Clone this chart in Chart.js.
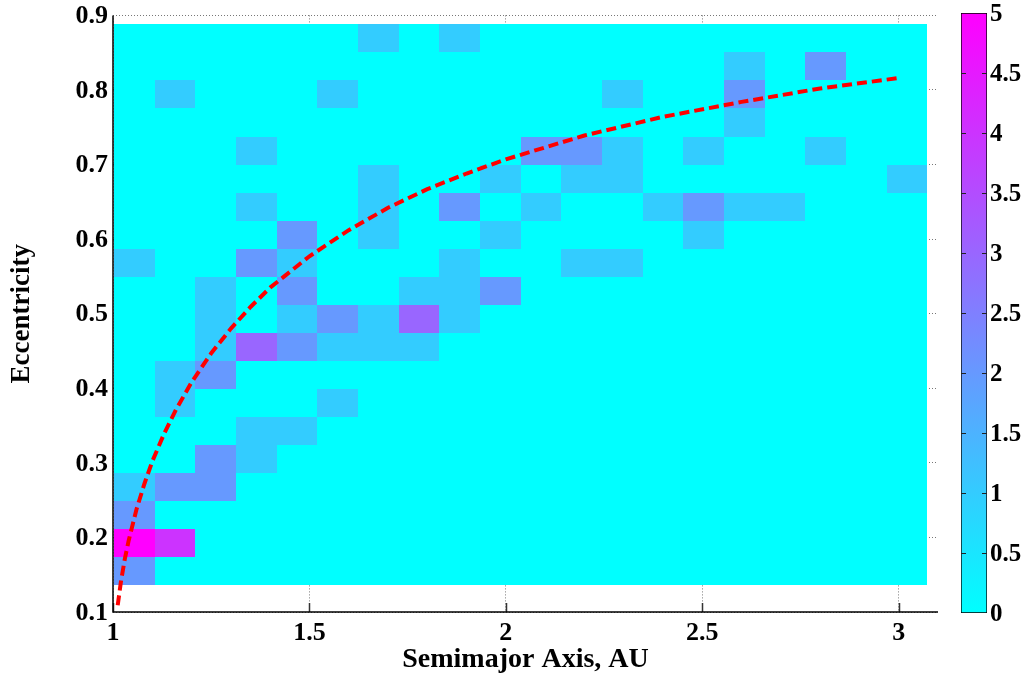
<!DOCTYPE html>
<html>
<head>
<meta charset="utf-8">
<script src="https://cdn.jsdelivr.net/npm/chart.js@4.4.1/dist/chart.umd.min.js"></script>
<style>
  body { margin: 0; background: #fff; }
  #wrap { position: relative; width: 1032px; height: 677px; }
  #main { position: absolute; left: 0; top: 0; }
  #cbar { position: absolute; left: 940px; top: 0; }
</style>
</head>
<body>
<div id="wrap">
  <canvas id="main" width="1032" height="677"></canvas>
  <canvas id="cbar" width="92" height="677"></canvas>
</div>
<script>
// bin edges of the 2D histogram
const aEdges = [1.000, 1.1035, 1.207, 1.3105, 1.414, 1.5175, 1.621, 1.7245, 1.828, 1.9315,
                2.035, 2.1385, 2.242, 2.3455, 2.449, 2.5525, 2.656, 2.7595, 2.863, 2.9665, 3.07];
const eEdges = [0.136, 0.1736, 0.2112, 0.2488, 0.2864, 0.324, 0.3616, 0.3992, 0.4368, 0.4744,
                0.512, 0.5496, 0.5872, 0.6248, 0.6624, 0.700, 0.7376, 0.7752, 0.8128, 0.8504, 0.888];

// counts per bin, first row = highest eccentricity bin
const counts = [
  [0,0,0,0,0,0,1,0,1,0, 0,0,0,0,0,0,0,0,0,0],
  [0,0,0,0,0,0,0,0,0,0, 0,0,0,0,0,1,0,2,0,0],
  [0,1,0,0,0,1,0,0,0,0, 0,0,1,0,0,2,0,0,0,0],
  [0,0,0,0,0,0,0,0,0,0, 0,0,0,0,0,1,0,0,0,0],
  [0,0,0,1,0,0,0,0,0,0, 2,2,1,0,1,0,0,1,0,0],
  [0,0,0,0,0,0,1,0,0,1, 0,1,1,0,0,0,0,0,0,1],
  [0,0,0,1,0,0,1,0,2,0, 1,0,0,1,2,1,1,0,0,0],
  [0,0,0,0,2,0,1,0,0,1, 0,0,0,0,1,0,0,0,0,0],
  [1,0,0,2,1,0,0,0,1,0, 0,1,1,0,0,0,0,0,0,0],
  [0,0,1,0,2,0,0,1,1,2, 0,0,0,0,0,0,0,0,0,0],
  [0,0,1,0,1,2,1,3,1,0, 0,0,0,0,0,0,0,0,0,0],
  [0,0,1,3,2,1,1,1,0,0, 0,0,0,0,0,0,0,0,0,0],
  [0,1,2,0,0,0,0,0,0,0, 0,0,0,0,0,0,0,0,0,0],
  [0,1,0,0,0,1,0,0,0,0, 0,0,0,0,0,0,0,0,0,0],
  [0,0,0,1,1,0,0,0,0,0, 0,0,0,0,0,0,0,0,0,0],
  [0,0,2,1,0,0,0,0,0,0, 0,0,0,0,0,0,0,0,0,0],
  [1,2,2,0,0,0,0,0,0,0, 0,0,0,0,0,0,0,0,0,0],
  [2,0,0,0,0,0,0,0,0,0, 0,0,0,0,0,0,0,0,0,0],
  [5,4,0,0,0,0,0,0,0,0, 0,0,0,0,0,0,0,0,0,0],
  [2,0,0,0,0,0,0,0,0,0, 0,0,0,0,0,0,0,0,0,0]
];
const countRange = [0, 5];

// dashed boundary curve
const curveA = [1.012, 1.02, 1.03, 1.04, 1.06, 1.08, 1.10, 1.13, 1.16, 1.20, 1.25, 1.30, 1.35,
                1.40, 1.50, 1.60, 1.70, 1.80, 1.90, 2.00, 2.20, 2.40, 2.60, 2.80, 3.00];
const curveE = [0.109, 0.140, 0.171, 0.196, 0.238, 0.272, 0.302, 0.339, 0.371, 0.408, 0.447, 0.480, 0.509,
                0.535, 0.577, 0.612, 0.642, 0.667, 0.688, 0.707, 0.739, 0.764, 0.784, 0.802, 0.816];

const serif = 'Liberation Serif';
const fmt = v => String(+(+v).toFixed(2));

// "cool" colormap: cyan -> magenta
function coolColor(n) {
  const t = Math.max(0, Math.min(1, (n - countRange[0]) / (countRange[1] - countRange[0])));
  return `rgb(${Math.round(255 * t)},${Math.round(255 * (1 - t))},255)`;
}

const heatmap = {
  id: 'heatmap',
  beforeDatasetsDraw(chart) {
    const { ctx, scales: { x, y } } = chart;
    ctx.save();
    // inward tick marks on the bottom axis
    ctx.strokeStyle = '#333';
    ctx.lineWidth = 1.5;
    x.ticks.forEach(t => {
      const px = Math.round(x.getPixelForValue(t.value)) + 0.5;
      ctx.beginPath();
      ctx.moveTo(px, y.bottom);
      ctx.lineTo(px, y.bottom - 9);
      ctx.stroke();
    });
    const nRows = counts.length;
    counts.forEach((row, r) => {
      const top = Math.round(y.getPixelForValue(eEdges[nRows - r]));
      const bottom = Math.round(y.getPixelForValue(eEdges[nRows - 1 - r]));
      row.forEach((n, c) => {
        const left = Math.round(x.getPixelForValue(aEdges[c])) + 1;
        const right = Math.round(x.getPixelForValue(aEdges[c + 1])) + 1;
        ctx.fillStyle = coolColor(n);
        ctx.fillRect(left, top, right - left, bottom - top);
      });
    });
    ctx.restore();
  },
  // solid left and bottom axis lines
  afterDatasetsDraw(chart) {
    const { ctx, chartArea: a } = chart;
    ctx.save();
    ctx.strokeStyle = '#000';
    ctx.lineWidth = 1.5;
    ctx.beginPath();
    ctx.moveTo(a.left, a.top);
    ctx.lineTo(a.left, a.bottom);
    ctx.lineTo(a.right, a.bottom);
    ctx.stroke();
    ctx.restore();
  }
};

new Chart(document.getElementById('main'), {
  type: 'scatter',
  data: {
    datasets: [{
      data: curveA.map((a, i) => ({ x: a, y: curveE[i] })),
      showLine: true,
      borderColor: '#ff0000',
      borderWidth: 4,
      borderDash: [10, 5],
      pointRadius: 0,
      fill: false
    }]
  },
  options: {
    responsive: false,
    animation: false,
    layout: { padding: { top: 15, right: 94, bottom: 0, left: 0 } },
    plugins: { legend: { display: false }, tooltip: { enabled: false } },
    scales: {
      x: {
        type: 'linear', min: 1, max: 3.1,
        ticks: { stepSize: 0.5, includeBounds: false, padding: 8, color: '#000',
                 font: { family: serif, size: 26, weight: 'bold', lineHeight: 1 }, callback: fmt, maxRotation: 0 },
        grid: { color: '#777', lineWidth: 1, drawTicks: false },
        border: { display: false, dash: [1, 2] },
        title: { display: true, text: 'Semimajor Axis, AU', color: '#000',
                 font: { family: serif, size: 28, weight: 'bold' }, padding: { top: 0, bottom: 0 } },
        afterFit(s) { s.height = 65; }
      },
      y: {
        min: 0.1, max: 0.9,
        ticks: { stepSize: 0.1, includeBounds: false, padding: 5, labelOffset: 1, color: '#000',
                 font: { family: serif, size: 26, weight: 'bold', lineHeight: 0.8 }, callback: fmt },
        grid: { color: '#777', lineWidth: 1, drawTicks: false },
        border: { display: false, dash: [1, 2] },
        title: { display: true, text: 'Eccentricity', color: '#000',
                 font: { family: serif, size: 27, weight: 'bold' }, padding: { top: 6, bottom: 0 } },
        afterFit(s) { s.width = 113; }
      }
    }
  },
  plugins: [heatmap]
});

// small inward ticks on both edges of the colour bar
const cbarTicks = {
  id: 'cbarTicks',
  afterDatasetsDraw(chart) {
    const { ctx, chartArea: a, scales: { y } } = chart;
    ctx.save();
    ctx.strokeStyle = '#222';
    ctx.lineWidth = 1;
    y.ticks.forEach(t => {
      if (t.value <= countRange[0] || t.value >= countRange[1]) return;
      const py = Math.round(y.getPixelForValue(t.value)) + 0.5;
      ctx.beginPath();
      ctx.moveTo(a.left, py); ctx.lineTo(a.left + 5, py);
      ctx.moveTo(a.right - 5, py); ctx.lineTo(a.right, py);
      ctx.stroke();
    });
    ctx.restore();
  }
};

new Chart(document.getElementById('cbar'), {
  type: 'bar',
  data: {
    labels: [''],
    datasets: [{
      data: [countRange],
      backgroundColor(c) {
        const { ctx, chartArea } = c.chart;
        if (!chartArea) return coolColor(0);
        const g = ctx.createLinearGradient(0, chartArea.bottom, 0, chartArea.top);
        g.addColorStop(0, coolColor(countRange[0]));
        g.addColorStop(1, coolColor(countRange[1]));
        return g;
      },
      borderColor: '#000',
      borderWidth: 1,
      borderSkipped: false,
      barPercentage: 1,
      categoryPercentage: 1
    }]
  },
  options: {
    responsive: false,
    animation: false,
    layout: { padding: { left: 21, top: 13, bottom: 64, right: 0 } },
    plugins: { legend: { display: false }, tooltip: { enabled: false } },
    scales: {
      x: { display: false },
      y: {
        position: 'right', min: countRange[0], max: countRange[1],
        ticks: { stepSize: 0.5, padding: 3, labelOffset: 2, color: '#000',
                 font: { family: serif, size: 25, weight: 'bold', lineHeight: 0.8 }, callback: fmt },
        grid: { display: false, drawTicks: false },
        border: { display: false },
        afterFit(s) { s.width = 45; }
      }
    }
  },
  plugins: [cbarTicks]
});
</script>
</body>
</html>
